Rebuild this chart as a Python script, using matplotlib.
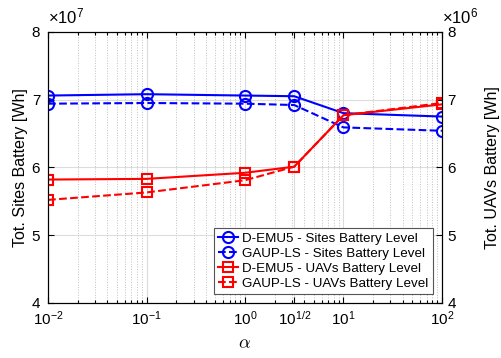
import matplotlib.pyplot as plt
from matplotlib.ticker import ScalarFormatter, FixedLocator, LogLocator, NullFormatter

plt.rcParams['font.family'] = ['Liberation Sans', 'DejaVu Sans']
plt.rcParams['mathtext.fontset'] = 'custom'
plt.rcParams['mathtext.rm'] = 'Liberation Sans'
plt.rcParams['mathtext.it'] = 'Liberation Sans:italic'

# alpha values (10^{1/2} included)
alpha = [0.01, 0.1, 1, 10 ** 0.5, 10, 100]
xtick_labels = [r'$10^{-2}$', r'$10^{-1}$', r'$10^{0}$', r'$10^{1/2}$', r'$10^{1}$', r'$10^{2}$']

# sites battery [Wh] (left axis)
demu5_sites = [7.06e7, 7.08e7, 7.06e7, 7.05e7, 6.80e7, 6.75e7]
gaup_sites = [6.94e7, 6.95e7, 6.94e7, 6.92e7, 6.59e7, 6.54e7]
# UAVs battery [Wh] (right axis)
demu5_uavs = [5.82e6, 5.83e6, 5.92e6, 6.01e6, 6.77e6, 6.93e6]
gaup_uavs = [5.52e6, 5.63e6, 5.81e6, 6.01e6, 6.77e6, 6.95e6]

fig = plt.figure(figsize=(5.01, 3.58), dpi=100)
ax = fig.add_axes([0.096, 0.154, 0.786, 0.757])
ax2 = ax.twinx()

blue = '#0000ff'
red = '#ff0000'
h1, = ax.plot(alpha, demu5_sites, '-o', color=blue, lw=1.5, ms=8, mfc='none', mew=1.5,
              label='D-EMU5 - Sites Battery Level')
h2, = ax.plot(alpha, gaup_sites, '--o', color=blue, lw=1.5, ms=8, mfc='none', mew=1.5,
              label='GAUP-LS - Sites Battery Level')
h3, = ax2.plot(alpha, demu5_uavs, '-s', color=red, lw=1.5, ms=7, mfc='none', mew=1.5,
               label='D-EMU5 - UAVs Battery Level')
h4, = ax2.plot(alpha, gaup_uavs, '--s', color=red, lw=1.5, ms=7, mfc='none', mew=1.5,
               label='GAUP-LS - UAVs Battery Level')

ax.set_xscale('log')
ax.set_xlim(0.01, 100)
ax.set_ylim(4e7, 8e7)
ax2.set_ylim(4e6, 8e6)

ax.xaxis.set_major_locator(FixedLocator(alpha))
ax.set_xticklabels(xtick_labels)
ax.xaxis.set_minor_locator(LogLocator(base=10, subs=range(2, 10), numticks=20))
ax.xaxis.set_minor_formatter(NullFormatter())

for a in (ax, ax2):
    fmt = ScalarFormatter(useMathText=True)
    fmt.set_powerlimits((0, 0))
    a.yaxis.set_major_formatter(fmt)
    a.yaxis.OFFSETTEXTPAD = 6
    a.set_yticks([4e7, 5e7, 6e7, 7e7, 8e7] if a is ax else [4e6, 5e6, 6e6, 7e6, 8e6])
    a.tick_params(direction='in', which='both', labelsize=11, length=4, width=0.8)
    a.tick_params(which='minor', length=2)
    for s in a.spines.values():
        s.set_linewidth(0.8)

ax.yaxis.get_offset_text().set_fontsize(12)
off2 = ax2.yaxis.get_offset_text()
off2.set_fontsize(12)
off2.set_ha('left')

ax.tick_params(top=True, which='both')
ax.tick_params(axis='x', pad=5)
ax.tick_params(axis='y', pad=5)

ax.grid(True, which='major', color='#dcdcdc', lw=0.8)
ax.grid(True, which='minor', axis='x', color='#c0c0c0', lw=0.7, ls=':')
ax.set_axisbelow(True)

ax.set_ylabel('Tot. Sites Battery [Wh]', fontsize=11.5, labelpad=2)
ax2.set_ylabel('Tot. UAVs Battery [Wh]', fontsize=11.5, labelpad=20)
ax.set_xlabel(r'$\alpha$', fontsize=13, math_fontfamily='cm', labelpad=5)

leg = ax2.legend(handles=[h1, h2, h3, h4], loc='lower right', fontsize=9.6,
                 frameon=True, fancybox=False, framealpha=1, edgecolor='#555555',
                 borderpad=0.3, labelspacing=0.2, handlelength=1.5,
                 handletextpad=0.3, borderaxespad=0.7)
leg.get_frame().set_linewidth(0.8)

fig.savefig('out.png', dpi=100)
